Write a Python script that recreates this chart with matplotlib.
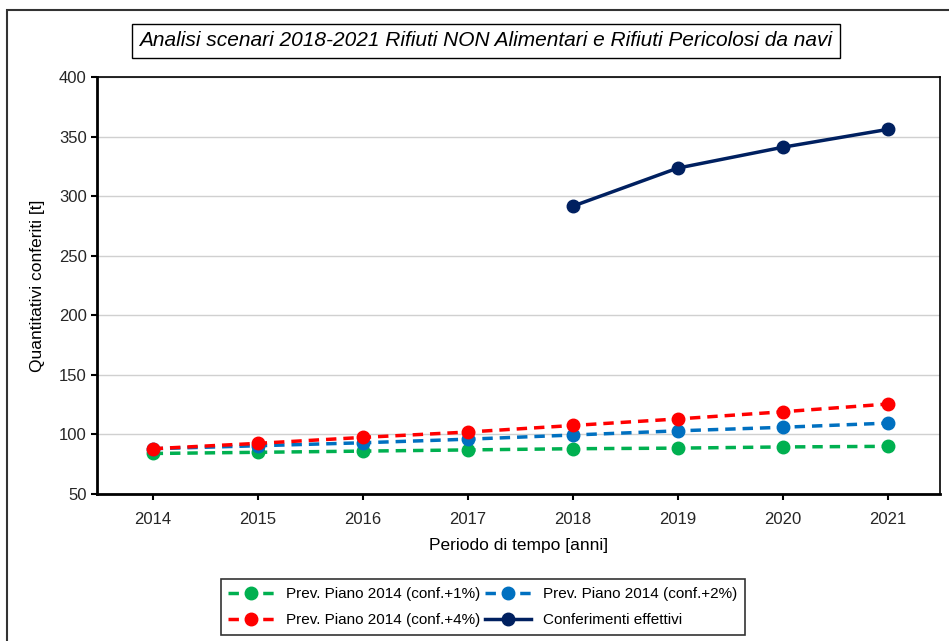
import matplotlib.pyplot as plt
from matplotlib.patches import Rectangle

plt.rcParams['font.family'] = ['Liberation Sans', 'DejaVu Sans']

# data
anni = ['2014', '2015', '2016', '2017', '2018', '2019', '2020', '2021']
conf_1 = [84, 85, 86, 87, 88, 88.5, 89.5, 90]
conf_2 = [88, 90.5, 93, 96, 99.5, 103, 106, 109.5]
conf_4 = [88, 92.5, 97.5, 102, 107.5, 113, 119, 125.5]
anni_eff = ['2018', '2019', '2020', '2021']
effettivi = [291.5, 323.5, 341, 356]

fig = plt.figure(figsize=(9.49, 6.41), dpi=100)
ax = fig.add_axes([97 / 949, 1 - 494 / 641, 843 / 949, 417 / 641])

x = list(range(len(anni)))
x_eff = [anni.index(a) for a in anni_eff]

l1, = ax.plot(x, conf_1, ls=(0, (3, 2)), lw=2.5, color='#00b050', marker='o', ms=9,
              label='Prev. Piano 2014 (conf.+1%)')
l2, = ax.plot(x, conf_2, ls=(0, (3, 2)), lw=2.5, color='#0070c0', marker='o', ms=9,
              label='Prev. Piano 2014 (conf.+2%)')
l4, = ax.plot(x, conf_4, ls=(0, (3, 2)), lw=2.5, color='#ff0000', marker='o', ms=9,
              label='Prev. Piano 2014 (conf.+4%)')
le, = ax.plot(x_eff, effettivi, ls='-', lw=2.5, color='#002060', marker='o', ms=9,
              label='Conferimenti effettivi')

ax.set_xlim(-0.53, 7.5)
ax.set_ylim(50, 400)
ax.set_yticks(range(50, 401, 50))
ax.set_xticks(x)
ax.set_xticklabels(anni)
ax.grid(axis='y', color='#d0d0d0', lw=1)
ax.set_axisbelow(True)
for s in ax.spines.values():
    s.set_linewidth(1.2)
ax.spines['left'].set_linewidth(2)
ax.spines['bottom'].set_linewidth(2)
ax.tick_params(axis='both', labelsize=12, length=4, width=1.5, color='black',
               labelcolor='#262626')
ax.tick_params(axis='x', pad=9)

ax.set_xlabel('Periodo di tempo [anni]', fontsize=12.5, labelpad=8)
ax.set_ylabel('Quantitativi conferiti [t]', fontsize=12.5, labelpad=10)

fig.text(486 / 949, 1 - 41 / 641,
         'Analisi scenari 2018-2021 Rifiuti NON Alimentari e Rifiuti Pericolosi da navi',
         ha='center', va='center', fontsize=15, style='italic',
         bbox=dict(boxstyle='square,pad=0.35', fc='white', ec='black', lw=1))

# row-major order like the original legend
leg = fig.legend([l1, l4, l2, le], [l1.get_label(), l4.get_label(), l2.get_label(), le.get_label()],
                 loc='center', bbox_to_anchor=(483 / 949, 1 - 607 / 641), ncol=2,
                 fontsize=11, frameon=True, fancybox=False, edgecolor='black',
                 handlelength=3, columnspacing=0.3, handletextpad=0.8,
                 borderpad=0.5, labelspacing=0.8)
leg.get_frame().set_linewidth(1.2)

# outer chart frame
fig.patches.append(Rectangle((7 / 949, -0.1), 1.1, 1 - 10 / 641 + 0.1,
                             transform=fig.transFigure, fill=False,
                             ec='#333333', lw=1.5))

fig.savefig('out.png', dpi=100)
